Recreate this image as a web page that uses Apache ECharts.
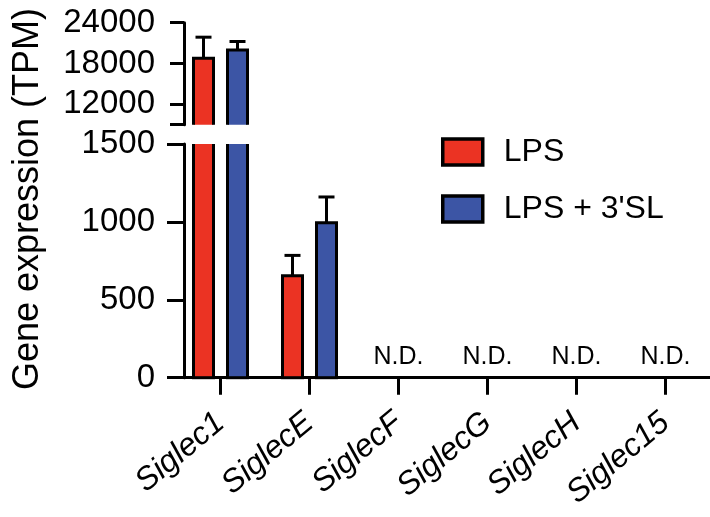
<!DOCTYPE html>
<html>
<head>
<meta charset="utf-8">
<script src="https://cdn.jsdelivr.net/npm/echarts@6/dist/echarts.min.js"></script>
<style>html,body{margin:0;padding:0;background:#fff}#c{width:710px;height:517px}</style>
</head>
<body>
<div id="c"></div>
<script>
const categories = ['Siglec1', 'SiglecE', 'SiglecF', 'SiglecG', 'SiglecH', 'Siglec15'];
const lpsMean = [18780, 655, null, null, null, null];
const lpsErr = [3090, 130, null, null, null, null];
const slMean = [20000, 995, null, null, null, null];
const slErr = [1235, 165, null, null, null, null];
const ndLabels = ['', '', 'N.D.', 'N.D.', 'N.D.', 'N.D.'];
const lowerTicks = [0, 500, 1000, 1500];
const upperTicks = [12000, 18000, 24000];
const seriesNames = ['LPS', "LPS + 3'SL"];

const RED = '#eb3323';
const BLUE = '#3c55a5';
const FONT = 'Liberation Sans, Arial, sans-serif';
const BAR_W = 20;
const OFFSETS = [-17, 17];

function rows(mean, err) {
  return categories.map((c, i) => [i, mean[i] == null ? '-' : mean[i], err[i] == null ? '-' : err[i]]);
}

function barRender(offset, color) {
  return function (params, api) {
    const v = api.value(1);
    if (v == null || isNaN(v)) return;
    const cs = params.coordSys;
    const c = api.coord([api.value(0), v]);
    const z = api.coord([api.value(0), 0]);
    const xC = c[0] + offset;
    const xL = xC - BAR_W / 2, xR = xC + BAR_W / 2;
    let yTop = c[1], yBot = z[1];
    const lo = cs.y, hi = cs.y + cs.height;
    const topClipped = yTop < lo, botClipped = yBot > hi;
    yTop = Math.max(yTop, lo);
    yBot = Math.min(yBot, hi);
    if (yTop >= yBot) return;
    const ls = { stroke: '#000', lineWidth: 3, fill: null, lineJoin: 'miter' };
    const children = [{ type: 'rect', shape: { x: xL, y: yTop, width: BAR_W, height: yBot - yTop }, style: { fill: color } }];
    if (!topClipped) {
      children.push({ type: 'polyline', shape: { points: [[xL, yBot], [xL, yTop], [xR, yTop], [xR, yBot]] }, style: ls });
    } else {
      children.push({ type: 'line', shape: { x1: xL, y1: yTop, x2: xL, y2: yBot }, style: ls });
      children.push({ type: 'line', shape: { x1: xR, y1: yTop, x2: xR, y2: yBot }, style: ls });
    }
    if (!botClipped) {
      children.push({ type: 'line', shape: { x1: xL - 1.5, y1: yBot, x2: xR + 1.5, y2: yBot }, style: ls });
    }
    return { type: 'group', children: children };
  };
}

function errRender(offset) {
  return function (params, api) {
    const v = api.value(1), e = api.value(2);
    if (v == null || isNaN(v) || isNaN(e)) return;
    const cs = params.coordSys;
    const b = api.coord([api.value(0), v]);
    const t = api.coord([api.value(0), v + e]);
    const x = b[0] + offset;
    const lo = cs.y, hi = cs.y + cs.height;
    const y1 = Math.min(Math.max(b[1], lo), hi);
    const y2 = Math.min(Math.max(t[1], lo), hi);
    if (y1 === y2) return;
    const children = [{ type: 'line', shape: { x1: x, y1: y1, x2: x, y2: y2 }, style: { stroke: '#000', lineWidth: 3 } }];
    if (t[1] >= lo && t[1] <= hi) {
      children.push({ type: 'line', shape: { x1: x - 8, y1: t[1], x2: x + 8, y2: t[1] }, style: { stroke: '#000', lineWidth: 3 } });
    }
    return { type: 'group', children: children };
  };
}

const axisLineStyle = { show: true, lineStyle: { color: '#000', width: 3 } };
const plain = (v) => String(v);

const series = [];
[0, 1].forEach(g => {
  [[lpsMean, lpsErr, RED], [slMean, slErr, BLUE]].forEach(([m, e, col], k) => {
    series.push({
      name: seriesNames[k], type: 'custom', xAxisIndex: g, yAxisIndex: g,
      renderItem: barRender(OFFSETS[k], col), data: rows(m, e),
      itemStyle: { color: col, borderColor: '#000', borderWidth: 3 }, z: 3
    });
    series.push({
      type: 'custom', xAxisIndex: g, yAxisIndex: g,
      renderItem: errRender(OFFSETS[k]), data: rows(m, e), z: 2, silent: true
    });
  });
});
series.push({
  type: 'scatter', xAxisIndex: 1, yAxisIndex: 1, symbolSize: 0, silent: true, z: 5,
  data: ndLabels.map((t, i) => t ? [i, 0] : [i, '-']),
  label: {
    show: true, position: 'top', distance: 8,
    formatter: (p) => ndLabels[p.dataIndex],
    fontSize: 25, color: '#000', fontFamily: FONT, textBorderWidth: 0, opacity: 1
  },
  itemStyle: { opacity: 1 }
});

const chart = echarts.init(document.getElementById('c'), null, { renderer: 'canvas' });
chart.setOption({
  animation: false,
  backgroundColor: '#fff',
  grid: [
    { left: 176, right: -10, top: 22.7, height: 102 },
    { left: 176, right: -10, top: 144, height: 233.7 }
  ],
  legend: {
    orient: 'vertical',
    left: 441,
    top: 136,
    padding: 0,
    itemWidth: 40,
    itemHeight: 26,
    itemGap: 25,
    data: seriesNames.map(n => ({ name: n, itemStyle: { borderColor: '#000', borderWidth: 3.5 } })),
    icon: 'rect',
    itemStyle: { borderColor: '#000', borderWidth: 3.5 },
    textStyle: { fontSize: 32, color: '#000', fontFamily: FONT, padding: [0, 0, 0, 16] }
  },
  xAxis: [
    { type: 'category', gridIndex: 0, data: categories, show: false },
    {
      type: 'category', gridIndex: 1, data: categories,
      axisLine: axisLineStyle,
      axisTick: { show: true, alignWithLabel: true, length: 17, lineStyle: { color: '#000', width: 3 } },
      axisLabel: { rotate: 40, margin: 41, fontSize: 32, fontStyle: 'italic', color: '#000', fontFamily: FONT, interval: 0 }
    }
  ],
  yAxis: [
    {
      type: 'value', gridIndex: 0, min: 9000, max: 24000, offset: -8,
      splitLine: { show: false },
      axisLine: axisLineStyle,
      axisTick: { show: true, length: 14, lineStyle: { color: '#000', width: 3 }, customValues: [9000].concat(upperTicks) },
      axisLabel: { margin: 29, fontSize: 33, color: '#000', fontFamily: FONT, customValues: upperTicks, formatter: plain }
    },
    {
      type: 'value', gridIndex: 1, min: 0, max: 1500, interval: 500, offset: -8,
      splitLine: { show: false },
      axisLine: axisLineStyle,
      axisTick: { show: true, length: 17, lineStyle: { color: '#000', width: 3 }, customValues: lowerTicks },
      axisLabel: { margin: 29, fontSize: 33, color: '#000', fontFamily: FONT, customValues: lowerTicks, formatter: plain }
    }
  ],
  graphic: [{
    type: 'text',
    rotation: Math.PI / 2,
    x: 28, y: 199,
    style: { text: 'Gene expression (TPM)', fontSize: 36, fontFamily: FONT, fill: '#000', align: 'center', verticalAlign: 'middle' }
  }],
  series: series
});
</script>
</body>
</html>
